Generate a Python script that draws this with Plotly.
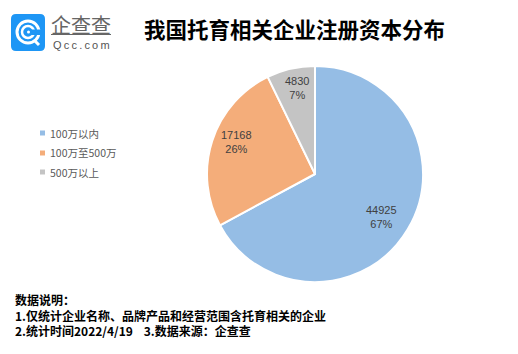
import plotly.graph_objects as go

W, H = 518, 354
categories = ["100万以内", "100万至500万", "500万以上"]
values = [44925, 17168, 4830]
percents = ["67%", "26%", "7%"]
colors = ["#95BDE5", "#F4AD7A", "#C4C4C4"]
title = "我国托育相关企业注册资本分布"
notes = ["数据说明：", "1.仅统计企业名称、品牌产品和经营范围含托育相关的企业", "2.统计时间2022/4/19\u00a0\u00a0\u00a0\u00a03.数据来源：企查查"]
label_pos = [(381, 217), (236, 142), (297, 88)]
legend_y = [133, 153, 172]
CJK = "'Noto Sans CJK SC', 'Liberation Sans', sans-serif"
LAT = "'Liberation Sans', 'Noto Sans CJK SC', sans-serif"

def px(x): return x / W
def py(y): return 1 - y / H

fig = go.Figure(go.Pie(
    labels=categories, values=values, sort=False, direction="clockwise", rotation=0,
    marker=dict(colors=colors, line=dict(color="white", width=2)),
    textinfo="none", hoverinfo="label+value+percent",
    domain=dict(x=[px(207), px(423)], y=[py(282), py(66)]),
))

def ann(x, y, text, size, color="black", bold=False, family=CJK, anchor="left"):
    fig.add_annotation(xref="paper", yref="paper", x=px(x), y=py(y), text=f"<b>{text}</b>" if bold else text,
                       showarrow=False, xanchor=anchor, yanchor="middle", align="center" if anchor == "center" else "left",
                       font=dict(size=size, color=color, family=family), borderpad=0, borderwidth=0)

ann(294, 29, title, 21.5, bold=True, anchor="center")
ann(15, 314.5, "<br>".join(f"<b>{t}</b>" for t in notes), 12)

# value labels
for v, p, (x, y) in zip(values, percents, label_pos):
    ann(x, y, f"{v}<br>{p}", 11, color="#404040", family=LAT, anchor="center")

# legend
for c, t, y in zip(colors, categories, legend_y):
    fig.add_shape(type="rect", xref="paper", yref="paper", x0=px(40), x1=px(45), y0=py(y - 2.5), y1=py(y + 2.5),
                  fillcolor=c, line_width=0)
    ann(50, y, t, 10.5, color="#595959")

# logo
def rrect(x0, y0, x1, y1, r):
    a, b, c, d = px(x0), px(x1), py(y0), py(y1)
    rx, ry = r / W, r / H
    return (f"M{a+rx},{c} L{b-rx},{c} Q{b},{c} {b},{c-ry} L{b},{d+ry} Q{b},{d} {b-rx},{d} "
            f"L{a+rx},{d} Q{a},{d} {a},{d+ry} L{a},{c-ry} Q{a},{c} {a+rx},{c} Z")
fig.add_shape(type="path", xref="paper", yref="paper", path=rrect(11, 14, 45, 51, 5), fillcolor="#1E96F5", line_width=0)
for r, lw in [(11, 3), (6, 2.5)]:
    fig.add_shape(type="circle", xref="paper", yref="paper", x0=px(28-r), x1=px(28+r), y0=py(32+r), y1=py(32-r),
                  line=dict(color="white", width=lw), fillcolor="rgba(0,0,0,0)")
fig.add_shape(type="rect", xref="paper", yref="paper", x0=px(31), x1=px(41), y0=py(35), y1=py(29.5), fillcolor="#1E96F5", line_width=0)
fig.add_shape(type="circle", xref="paper", yref="paper", x0=px(27), x1=px(30), y0=py(33.5), y1=py(30.5), fillcolor="white", line_width=0)
fig.add_shape(type="line", xref="paper", yref="paper", x0=px(34), x1=px(39), y0=py(40), y1=py(45), line=dict(color="white", width=3))
ann(81, 24, "企查查", 20, color="#666666", anchor="center")
fig.add_shape(type="line", xref="paper", yref="paper", x0=px(51), x1=px(111), y0=py(34.5), y1=py(34.5), line=dict(color="#666666", width=1))
ann(81, 45, "Q\u2009c\u2009c\u2009.\u2009c\u2009o\u2009m", 11, color="#555555", family=LAT, anchor="center")

fig.update_layout(
    width=W, height=H, margin=dict(l=0, r=0, t=0, b=0), paper_bgcolor="white", plot_bgcolor="white",
    showlegend=False,
)
fig.write_html("out.html", post_script="document.body.style.margin='0';", config=dict(displayModeBar=False))
